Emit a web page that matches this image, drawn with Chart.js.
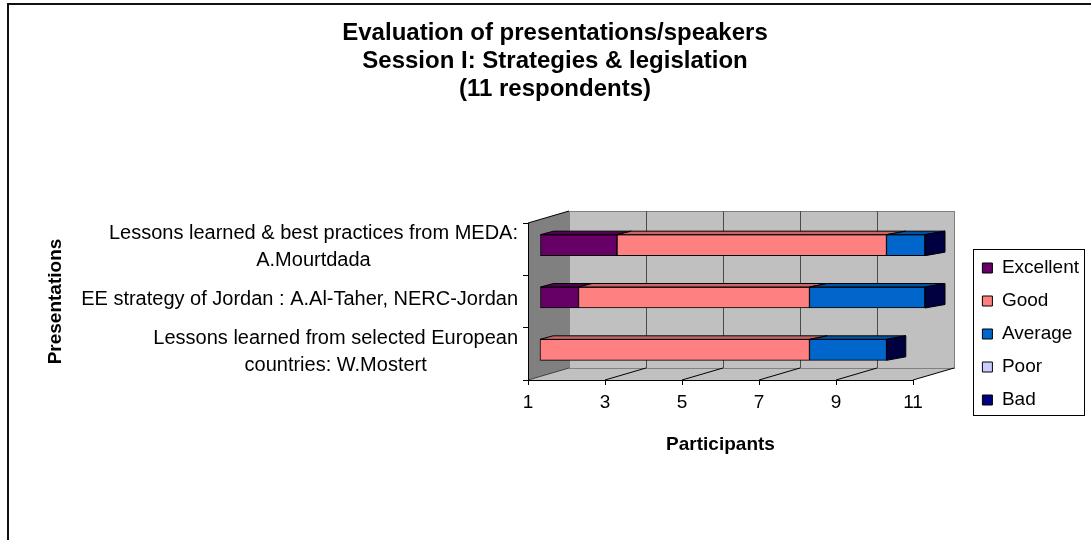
<!DOCTYPE html>
<html>
<head>
<meta charset="utf-8">
<script src="https://cdn.jsdelivr.net/npm/chart.js@4.4.1/dist/chart.umd.min.js"></script>
<style>
  body { margin: 0; background: #fff; }
  canvas { display: block; }
</style>
</head>
<body>
<canvas id="chart" width="1091" height="540"></canvas>
<script>
const titleLines = [
  "Evaluation of presentations/speakers",
  "Session I: Strategies & legislation",
  "(11 respondents)"
];
const categories = [
  ["Lessons learned & best practices from MEDA:", "A.Mourtdada"],
  ["EE strategy of Jordan : A.Al-Taher, NERC-Jordan"],
  ["Lessons learned from selected European", "countries: W.Mostert"]
];
const seriesNames = ["Excellent", "Good", "Average", "Poor", "Bad"];
const excellent = [3, 2, 1];
const good = [7, 6, 7];
const average = [1, 3, 2];
const poor = [0, 0, 0];
const bad = [0, 0, 0];
const xTicks = [1, 3, 5, 7, 9, 11];

const colors = ["#660066", "#FF8080", "#0066CC", "#CCCCFF", "#000080"];
const FONT = "'Liberation Sans', Arial, sans-serif";
const WALL = { dx: 41, dy: -12 };
const BAR = { dx: 12, dy: -4, depthL: 13, depthR: 20, depthY: -3.5 };
const SIDE = "#000040";

Chart.defaults.font.family = FONT;
Chart.defaults.color = "#000";

function shade(hex, f) {
  const n = parseInt(hex.slice(1), 16);
  const r = Math.round(((n >> 16) & 255) * f);
  const g = Math.round(((n >> 8) & 255) * f);
  const b = Math.round((n & 255) * f);
  return `rgb(${r},${g},${b})`;
}

function poly(ctx, pts) {
  ctx.beginPath();
  pts.forEach(([px, py], i) => (i ? ctx.lineTo(px, py) : ctx.moveTo(px, py)));
  ctx.closePath();
}

// grey 3D walls and floor behind the bars
const backdrop = {
  id: "backdrop",
  beforeDraw(chart) {
    const { ctx, chartArea: a, scales: { x } } = chart;
    ctx.save();
    ctx.fillStyle = "#111";
    ctx.fillRect(7, 3, chart.width - 7, 2);
    ctx.fillRect(7, 3, 2, chart.height - 3);

    const bl = a.left + WALL.dx, br = a.right + WALL.dx;
    const bt = a.top + WALL.dy, bb = a.bottom + WALL.dy;

    ctx.fillStyle = "#C0C0C0";
    poly(ctx, [[a.left, a.bottom], [a.right, a.bottom], [br, bb], [bl, bb]]);
    ctx.fill();
    ctx.fillRect(bl, bt, br - bl, bb - bt);
    ctx.strokeStyle = "#808080";
    ctx.lineWidth = 1;
    ctx.strokeRect(bl + 0.5, bt + 0.5, br - bl, bb - bt);

    ctx.fillStyle = "#808080";
    poly(ctx, [[a.left, a.top], [bl, bt], [bl, bb], [a.left, a.bottom]]);
    ctx.fill();

    xTicks.forEach((v, i) => {
      const px = Math.round(x.getPixelForValue(v));
      if (i > 0 && i < xTicks.length - 1) {
        ctx.strokeStyle = "#4a4a4a";
        ctx.beginPath();
        ctx.moveTo(px + WALL.dx + 0.5, bt);
        ctx.lineTo(px + WALL.dx + 0.5, bb);
        ctx.stroke();
      }
      ctx.strokeStyle = i === 0 ? "#404040" : "#000";
      ctx.beginPath();
      ctx.moveTo(px, a.bottom);
      ctx.lineTo(px + WALL.dx, bb);
      ctx.stroke();
    });
    ctx.strokeStyle = "#000";
    ctx.beginPath();
    ctx.moveTo(a.left, a.top);
    ctx.lineTo(bl, bt);
    ctx.stroke();
    ctx.restore();
  }
};

// shift bars into the box and add top / end faces
const bars3d = {
  id: "bars3d",
  beforeDatasetsDraw(chart) {
    chart.ctx.save();
    chart.ctx.translate(BAR.dx, BAR.dy);
  },
  afterDatasetsDraw(chart) {
    const { ctx, chartArea: a } = chart;
    const depthAt = px => BAR.depthL + (BAR.depthR - BAR.depthL) * (px - a.left) / (a.right - a.left);
    const ends = [];
    ctx.lineWidth = 1;
    ctx.strokeStyle = "#000";
    chart.data.datasets.forEach((ds, di) => {
      chart.getDatasetMeta(di).data.forEach((bar, i) => {
        const l = Math.min(bar.x, bar.base), r = Math.max(bar.x, bar.base);
        if (r - l < 0.5) return;
        const t = bar.y - bar.height / 2;
        poly(ctx, [[l, t], [l + depthAt(l), t + BAR.depthY], [r + depthAt(r), t + BAR.depthY], [r, t]]);
        ctx.fillStyle = shade(ds.backgroundColor, 0.8);
        ctx.fill();
        ctx.stroke();
        ends[i] = { r, t, b: t + bar.height };
      });
    });
    ends.forEach(({ r, t, b }) => {
      const d = depthAt(r);
      poly(ctx, [[r, t], [r + d, t + BAR.depthY], [r + d, b + BAR.depthY], [r, b]]);
      ctx.fillStyle = SIDE;
      ctx.fill();
      ctx.stroke();
    });
    ctx.restore();
  }
};

// category labels (each block centred, right aligned) and legend frame
const extras = {
  id: "extras",
  afterLayout(chart) {
    chart.legend.top += 64;
    chart.legend.bottom += 64;
  },
  afterDraw(chart) {
    const { ctx, scales: { y } } = chart;
    ctx.save();
    ctx.font = `20px ${FONT}`;
    ctx.fillStyle = "#000";
    ctx.textAlign = "center";
    ctx.textBaseline = "middle";
    categories.forEach((lines, i) => {
      const w = Math.max(...lines.map(s => ctx.measureText(s).width));
      const cx = y.right - 10 - w / 2;
      const cy = y.getPixelForValue(i) - 2;
      lines.forEach((s, j) => ctx.fillText(s, cx, cy + (j - (lines.length - 1) / 2) * 27));
    });

    const boxes = chart.legend.legendHitBoxes;
    const l = Math.min(...boxes.map(b => b.left));
    const t = Math.min(...boxes.map(b => b.top));
    const r = Math.max(...boxes.map(b => b.left + b.width));
    const bt = Math.max(...boxes.map(b => b.top + b.height));
    ctx.strokeStyle = "#000";
    ctx.lineWidth = 1;
    ctx.strokeRect(Math.round(l - 9) + 0.5, Math.round(t - 10) + 0.5, Math.round(r - l + 14), Math.round(bt - t + 15));
    ctx.restore();
  }
};

const seriesValues = [excellent, good, average, poor, bad];

new Chart(document.getElementById("chart"), {
  type: "bar",
  data: {
    labels: categories,
    datasets: seriesNames.map((name, i) => ({
      label: name,
      data: seriesValues[i],
      backgroundColor: colors[i],
      borderColor: "#000",
      borderWidth: 1,
      borderSkipped: false,
      barThickness: 21,
      base: i === 0 ? xTicks[0] : undefined,
      clip: false
    }))
  },
  options: {
    indexAxis: "y",
    responsive: false,
    animation: false,
    devicePixelRatio: 1,
    layout: { padding: { left: 21, right: 2, top: 0, bottom: 0 } },
    scales: {
      x: {
        type: "linear",
        stacked: true,
        min: xTicks[0],
        max: xTicks[xTicks.length - 1],
        ticks: { stepSize: xTicks[1] - xTicks[0], color: "#000", font: { size: 19 }, padding: 6 },
        grid: { drawOnChartArea: false, drawTicks: true, tickLength: 5, color: "#000" },
        border: { color: "#000", width: 1 },
        title: {
          display: true, text: "Participants", color: "#000",
          font: { size: 19, weight: "bold" }, padding: { top: 0, bottom: 84 }
        },
        afterFit(s) { s.height = 160; }
      },
      y: {
        stacked: true,
        ticks: { display: false },
        grid: { drawOnChartArea: false, drawTicks: true, tickLength: 5, color: "#000" },
        border: { color: "#000", width: 1 },
        title: {
          display: true, text: "Presentations", color: "#000",
          font: { size: 19, weight: "bold" }, padding: { top: 23, bottom: 0 }
        },
        afterFit(s) { s.width = 507; }
      },
      y2: {
        type: "linear",
        position: "right",
        grid: { display: false },
        border: { display: false },
        ticks: { display: false },
        afterFit(s) { s.width = s.chart.width - 2 - s.chart.legend.width - 913; }
      }
    },
    plugins: {
      title: {
        display: true,
        text: titleLines,
        color: "#000",
        font: { size: 24, weight: "bold", lineHeight: "28px" },
        padding: { top: 19, bottom: 120 }
      },
      legend: {
        position: "right",
        labels: { boxWidth: 10, boxHeight: 10, padding: 14, color: "#000", font: { size: 19 } }
      },
      tooltip: { enabled: false }
    }
  },
  plugins: [backdrop, bars3d, extras]
});
</script>
</body>
</html>
